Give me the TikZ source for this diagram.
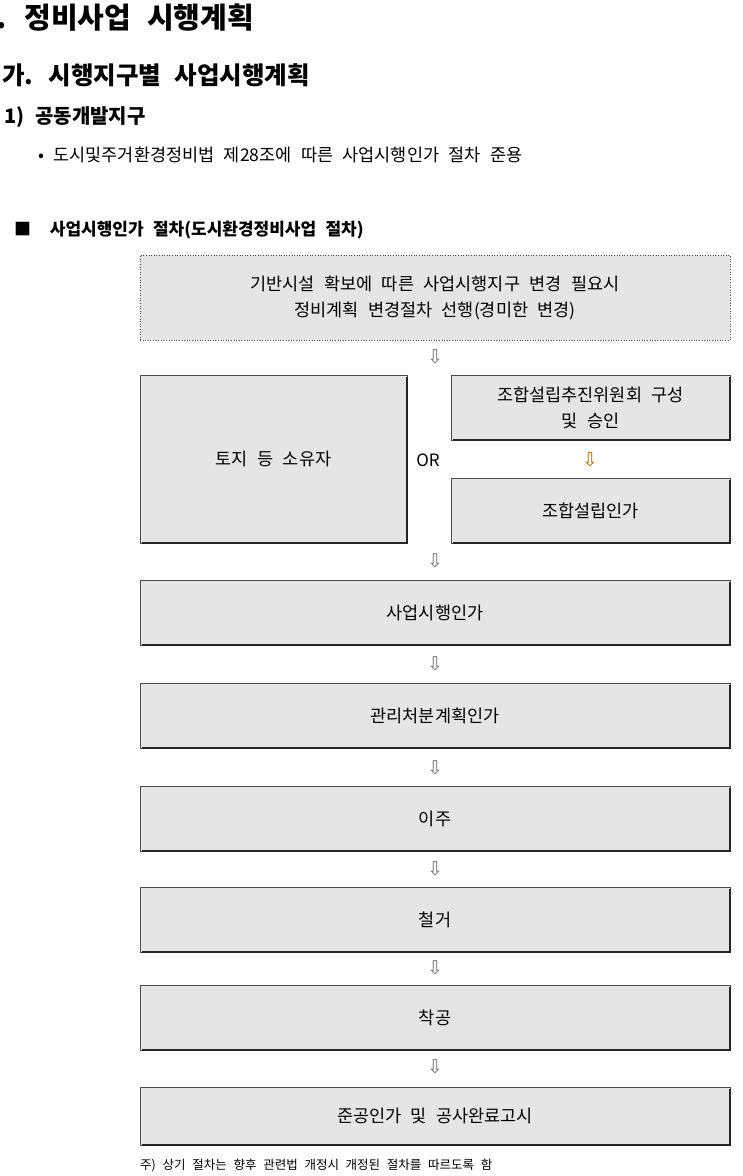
\documentclass[tikz,border=0pt]{standalone}
\usepackage{fontspec}
\setmainfont[WordSpace={2.4}]{Noto Sans CJK KR}
\newfontfamily\symfont{DejaVu Sans}
\usetikzlibrary{positioning}

\begin{document}
\begin{tikzpicture}[x=1pt,y=-1pt,
	stepbox/.style={draw=black!70,fill=black!10,line width=.6pt,align=center,font=\fontsize{17.5}{26}\selectfont,inner sep=0pt},
	shadowline/.style={black!85,line width=2pt},
	downarr/.style={font=\symfont\fontsize{19}{19}\selectfont,text=black!55,inner sep=0pt},
	head/.style={anchor=west,inner sep=0pt,font=\bfseries}]
	\useasboundingbox (0,0) rectangle (743,1176);
	% headings
	\node[head,font=\bfseries\fontsize{29}{29}\selectfont] (title) at (-4,18) {. 정비사업 시행계획};
	\node[head,font=\bfseries\fontsize{24.5}{24}\selectfont] (sub) at (2,75) {가. 시행지구별 사업시행계획};
	\node[head,font=\bfseries\fontsize{20}{20}\selectfont] (subsub) at (4,117) {1) 공동개발지구};
	\node[head,font=\fontsize{17.5}{17}\selectfont] (bullet) at (38,155) {• 도시및주거환경정비법 제28조에 따른 사업시행인가 절차 준용};
	\node[head,font=\bfseries\fontsize{17}{17}\selectfont] (caption) at (14,230) {■\ \ 사업시행인가 절차(도시환경정비사업 절차)};
	% boxes
	\node[stepbox,dotted,minimum width=590,minimum height=85] (change) at (435,297.5) {기반시설 확보에 따른 사업시행지구 변경 필요시\\정비계획 변경절차 선행(경미한 변경)};
	\node[stepbox,minimum width=267,minimum height=168] (owner) at (273.5,459) {토지 등 소유자};
	\node[font=\fontsize{17}{17}\selectfont] (or) at (428,460) {OR};
	\node[stepbox,minimum width=279,minimum height=65] (committee) at (590.5,407.5) {조합설립추진위원회 구성\\및 승인};
	\node[stepbox,minimum width=279,minimum height=65] (union) at (590.5,510.5) {조합설립인가};
	\node[stepbox,minimum width=590,minimum height=65] (permit) at (435,612.5) {사업시행인가};
	\node[stepbox,minimum width=590,minimum height=65] (manage) at (435,715.5) {관리처분계획인가};
	\node[stepbox,minimum width=590,minimum height=65] (move) at (435,818.5) {이주};
	\node[stepbox,minimum width=590,minimum height=65] (demolish) at (435,919.5) {철거};
	\node[stepbox,minimum width=590,minimum height=65] (start) at (435,1017.5) {착공};
	\node[stepbox,minimum width=590,minimum height=58] (finish) at (435,1116) {준공인가 및 공사완료고시};
	\node[anchor=west,inner sep=0pt,font=\fontsize{12.5}{12}\selectfont] (note) at (140,1165) {주) 상기 절차는 향후 관련법 개정시 개정된 절차를 따르도록 함};
	% shadows on right and bottom edges
	\foreach \b in {owner,committee,union,permit,manage,move,demolish,start,finish}
		\draw[shadowline] ([yshift=-2pt]\b.north east) -- (\b.south east) -- ([xshift=2pt]\b.south west);
	% arrows
	\node[downarr] (a1) at (435,357) {⇩};
	\node[downarr,text=orange!80!black] (a2) at (590,460) {⇩};
	\node[downarr] (a3) at (435,561) {⇩};
	\node[downarr] (a4) at (435,664) {⇩};
	\node[downarr] (a5) at (435,768) {⇩};
	\node[downarr] (a6) at (435,869) {⇩};
	\node[downarr] (a7) at (435,968) {⇩};
	\node[downarr] (a8) at (435,1067) {⇩};
\end{tikzpicture}
\end{document}
